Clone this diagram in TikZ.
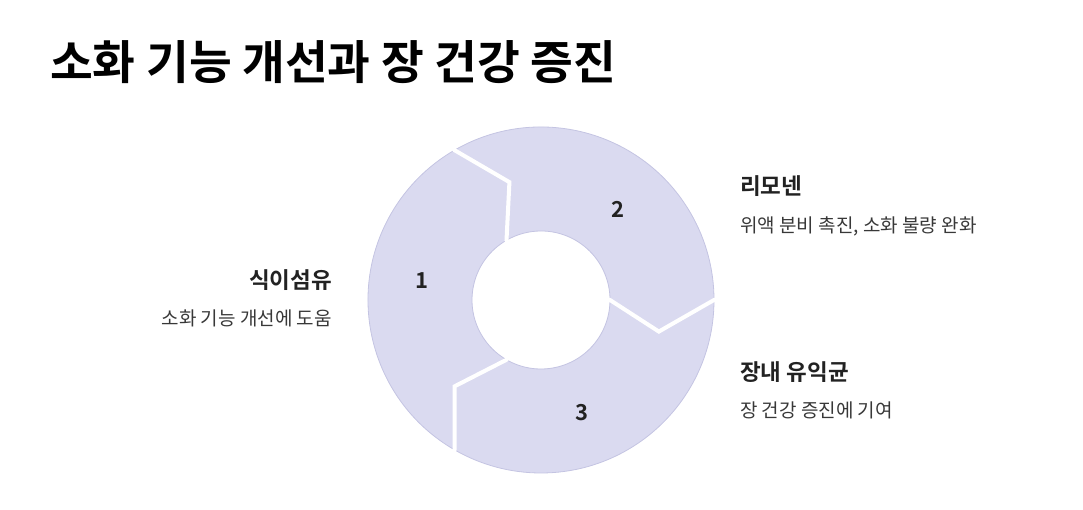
\documentclass[tikz,border=0pt]{standalone}
\usepackage{fontspec}
\newfontfamily\kr{Noto Sans CJK KR}
\newfontfamily\krb{Noto Sans CJK KR Bold}
\definecolor{seg}{HTML}{DADAF0}
\definecolor{segline}{HTML}{C4C4E2}
\definecolor{txt}{HTML}{222222}
\begin{document}
\begin{tikzpicture}[x=1pt,y=1pt,
  head/.style={font=\krb\fontsize{22.5}{26}\selectfont,text=txt,inner sep=0},
  sub/.style={font=\kr\fontsize{19}{22}\selectfont,text=txt!90,inner sep=0},
  num/.style={font=\krb\fontsize{22}{26}\selectfont,text=txt,inner sep=0}]
\useasboundingbox (0,0) rectangle (1083,510);
\def\R{173}\def\r{69}\def\m{122}
\begin{scope}[shift={(541,210)}]
\foreach \s in {240,120,360}{
  \pgfmathsetmacro\e{\s-120}
  \filldraw[fill=seg,draw=segline,line width=0.8]
    (\s:\R) arc[start angle=\s,end angle=\e,radius=\R] -- (\e-15:\m) -- (\e:\r)
    arc[start angle=\e,end angle=\s,radius=\r] -- (\s-15:\m) -- cycle;
}
\foreach \a in {0,120,240}{
  \draw[white,line width=4,line join=miter] (\a:\R+3) -- (\a:\R) -- (\a-15:\m) -- (\a:\r) -- (\a:\r-3);
}
\end{scope}
\node[anchor=west,font=\krb\fontsize{46.5}{50}\selectfont,inner sep=0] (title) at (50,448) {소화 기능 개선과 장 건강 증진};
\node[num] (n1) at (422,229) {1};
\node[num] (n2) at (618,301) {2};
\node[num] (n3) at (582,97) {3};
\node[head,anchor=east] (h1) at (332,230) {식이섬유};
\node[sub,anchor=east] (s1) at (332,192) {소화 기능 개선에 도움};
\node[head,anchor=west] (h2) at (740,324) {리모넨};
\node[sub,anchor=west] (s2) at (740,284) {위액 분비 촉진, 소화 불량 완화};
\node[head,anchor=west] (h3) at (740,138) {장내 유익균};
\node[sub,anchor=west] (s3) at (740,100) {장 건강 증진에 기여};
\end{tikzpicture}
\end{document}
